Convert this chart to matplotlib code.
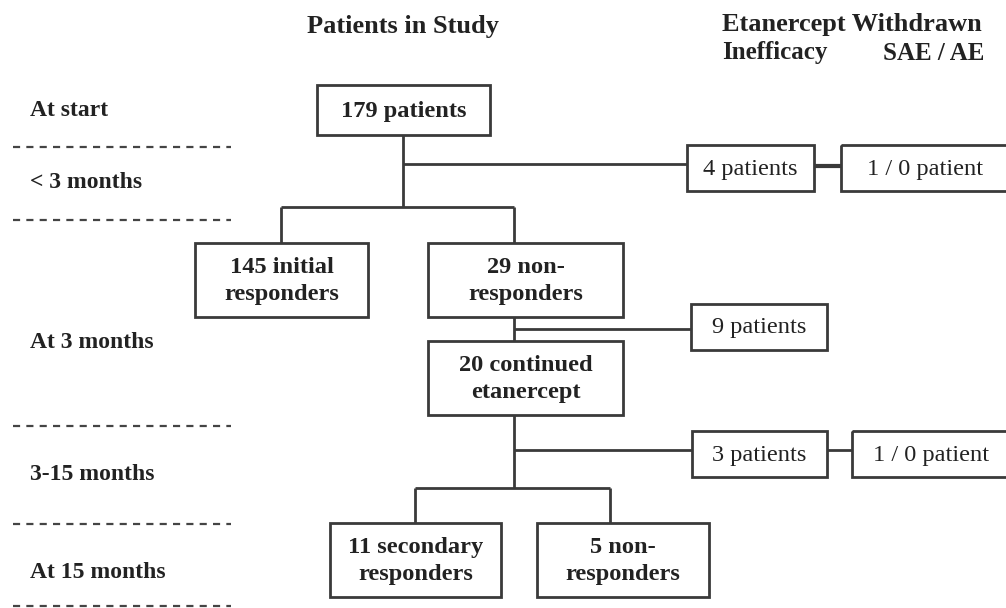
import matplotlib
matplotlib.use("Agg")
import matplotlib.pyplot as plt
from matplotlib.patches import Rectangle

# ---- content ----
header_main = "Patients in Study"
header_side = "Etanercept Withdrawn"
header_sub = ["Inefficacy", "SAE / AE"]
row_labels = ["At start", "< 3 months", "At 3 months", "3-15 months", "At 15 months"]
main_boxes = ["179 patients", "145 initial\nresponders", "29 non-\nresponders",
              "20 continued\netanercept", "11 secondary\nresponders", "5 non-\nresponders"]
side_boxes = ["4 patients", "1 / 0 patient", "9 patients", "3 patients", "1 / 0 patient"]

# ---- layout (pixel space) ----
W, H = 1006, 608
fig = plt.figure(figsize=(W / 100, H / 100), dpi=100)
ax = fig.add_axes([0, 0, 1, 1])
ax.set_xlim(0, W)
ax.set_ylim(H, 0)
ax.axis("off")

LC = "#3a3a3a"
TC = "#222222"
FAM = ["Liberation Serif", "DejaVu Serif"]
FS_BOX = 17.6
FS_HEAD = 19.0
FS_SUB = 18.0
FS_ROW = 17.0

def box(x0, y0, x1, y1, text, bold=True):
    ax.add_patch(Rectangle((x0, y0), x1 - x0, y1 - y0, fill=False,
                           edgecolor=LC, lw=2.0))
    ax.text((x0 + x1) / 2, (y0 + y1) / 2 + 1, text, ha="center", va="center",
            fontsize=FS_BOX, fontweight="bold" if bold else "normal",
            family=FAM, color=TC, linespacing=1.32)

def line(xs, ys, lw=2.0):
    ax.plot(xs, ys, color=LC, lw=lw, solid_capstyle="butt")

# headers
ax.text(403, 27, header_main, ha="center", va="center", fontsize=FS_HEAD,
        fontweight="bold", family=FAM, color=TC)
ax.text(722, 25, header_side, ha="left", va="center", fontsize=FS_HEAD,
        fontweight="bold", family=FAM, color=TC)
ax.text(722, 53, header_sub[0], ha="left", va="center", fontsize=FS_SUB,
        fontweight="bold", family=FAM, color=TC)
ax.text(984, 53, header_sub[1], ha="right", va="center", fontsize=FS_SUB,
        fontweight="bold", family=FAM, color=TC)

# row labels
row_y = [110, 182, 342, 474, 572]
for lab, y in zip(row_labels, row_y):
    ax.text(30, y, lab, ha="left", va="center", fontsize=FS_ROW,
            fontweight="bold", family=FAM, color=TC)

# dashed separators
for y in [147, 220, 426, 524, 606]:
    ax.plot([13, 231], [y, y], color="#444444", lw=1.6,
            linestyle=(0, (3.2, 2.8)))

# main boxes
main_pos = [(317, 85, 490, 135), (195, 243, 368, 317), (428, 243, 623, 317),
            (428, 341, 623, 415), (330, 523, 501, 597), (537, 523, 709, 597)]
for (x0, y0, x1, y1), t in zip(main_pos, main_boxes):
    box(x0, y0, x1, y1, t, bold=True)

# side boxes
side_pos = [(687, 145, 814, 191), (841, 145, 1010, 191), (691, 304, 827, 350),
            (692, 431, 827, 477), (852, 431, 1010, 477)]
for (x0, y0, x1, y1), t in zip(side_pos, side_boxes):
    box(x0, y0, x1, y1, t, bold=False)

# connectors
line([403, 403], [135, 207])
line([403, 687], [164, 164])
line([814, 841], [166, 166], lw=3)
line([281, 514], [207, 207])
line([281, 281], [207, 243])
line([514, 514], [207, 243])
line([514, 514], [317, 341])
line([514, 691], [329, 329])
line([514, 514], [415, 488])
line([514, 692], [450, 450])
line([827, 852], [450, 450])
line([415, 610], [488, 488])
line([415, 415], [488, 523])
line([610, 610], [488, 523])

fig.savefig("out.png", dpi=100, facecolor="white")
